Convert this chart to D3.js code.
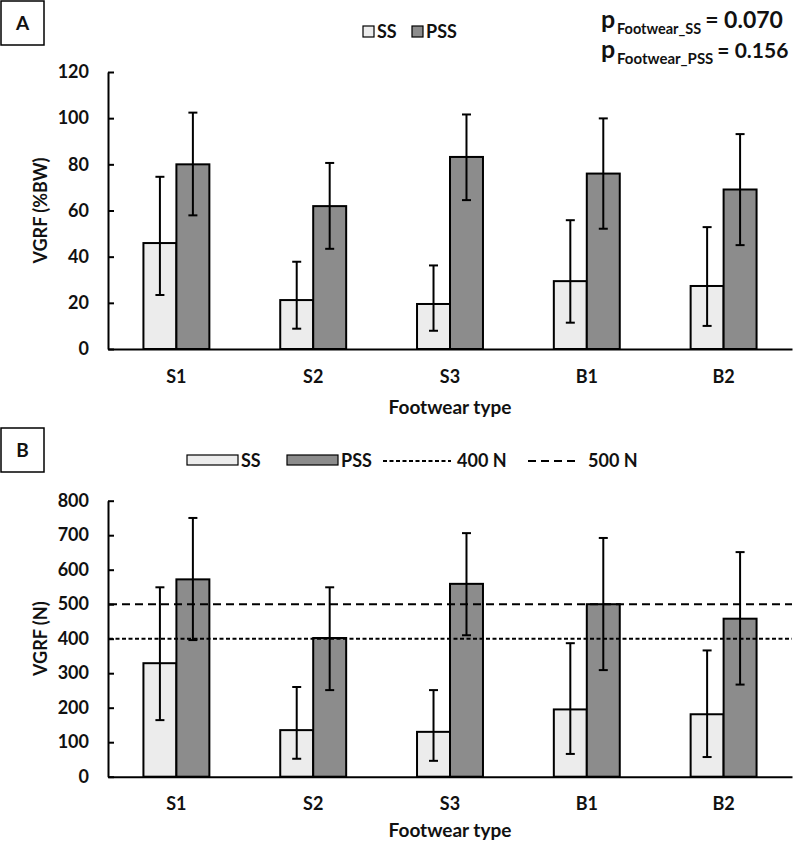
<!DOCTYPE html>
<html><head><meta charset="utf-8">
<script src="https://cdn.jsdelivr.net/npm/d3@7"></script>
<style>
body{margin:0;background:#fff;}
svg text{font-family:Lato,"Open Sans",sans-serif;font-weight:700;fill:#111;}
</style></head>
<body><svg id="c" width="800" height="846"></svg>
<script>
const categories = ["S1","S2","S3","B1","B2"];
const seriesNames = ["SS","PSS"];
// Panel A: VGRF (%BW)
const ssA = [45.9, 21.2, 19.5, 29.4, 27.3];
const ssA_lo = [23.4, 8.8, 7.9, 11.4, 10.0];
const ssA_hi = [74.6, 37.8, 36.2, 55.8, 52.8];
const pssA = [80.0, 61.9, 83.2, 76.0, 69.1];
const pssA_lo = [57.9, 43.4, 64.5, 52.1, 45.0];
const pssA_hi = [102.4, 80.6, 101.6, 99.9, 93.1];
const ticksA = [0,20,40,60,80,100,120];
// Panel B: VGRF (N)
const ssB = [329, 135, 130, 195, 181];
const ssB_lo = [164, 52, 46, 66, 57];
const ssB_hi = [549, 260, 251, 387, 366];
const pssB = [572, 402, 559, 500, 458];
const pssB_lo = [396, 251, 410, 309, 267];
const pssB_hi = [750, 549, 706, 692, 651];
const ticksB = [0,100,200,300,400,500,600,700,800];
const refLines = [400, 500];
const refLabels = ["400 N", "500 N"];
const pLabels = [["Footwear_SS","0.070"],["Footwear_PSS","0.156"]];

const svg = d3.select("#c");
const colors = {SS:"#ececec", PSS:"#8c8c8c"};

function panel(opts){
  const g = svg.append("g");
  const x = d3.scaleBand().domain(categories).range([108,792]).paddingInner(0.518).paddingOuter(0.259);
  const xs = d3.scaleBand().domain(seriesNames).range([0,x.bandwidth()]);
  const y = d3.scaleLinear().domain([0, opts.max]).range(opts.yRange);
  const data = [];
  categories.forEach((c,i)=>{
    data.push({c, s:"SS", v:opts.ss[i], lo:opts.ssLo[i], hi:opts.ssHi[i]});
    data.push({c, s:"PSS", v:opts.pss[i], lo:opts.pssLo[i], hi:opts.pssHi[i]});
  });
  g.selectAll("rect.bar").data(data).join("rect").attr("class","bar")
    .attr("x",d=>x(d.c)+xs(d.s)).attr("width",xs.bandwidth())
    .attr("y",d=>y(d.v)).attr("height",d=>y(0)-y(d.v))
    .attr("fill",d=>colors[d.s]).attr("stroke","#000").attr("stroke-width",2);
  // axes
  const ya = d3.axisLeft(y).tickValues(opts.ticks).tickSizeInner(-6).tickSizeOuter(0).tickPadding(19);
  const yg = g.append("g").attr("transform","translate(108,0)").call(ya);
  yg.select(".domain").attr("stroke","#000").attr("stroke-width",2);
  yg.selectAll(".tick line").attr("stroke","#000").attr("stroke-width",2);
  yg.selectAll(".tick text").style("font-size","18px").style("font-family","Lato").style("font-weight","700").attr("fill","#111");
  const xa = d3.axisBottom(x).tickSize(0).tickPadding(21);
  const xg = g.append("g").attr("transform",`translate(0,${y(0)})`).call(xa);
  xg.select(".domain").attr("stroke","#000").attr("stroke-width",2);
  xg.selectAll(".tick text").style("font-size","18px").style("font-family","Lato").style("font-weight","700").attr("fill","#111");
  // reference lines
  if(opts.refs){
    g.selectAll("line.ref").data(opts.refs).join("line").attr("class","ref")
      .attr("x1",109).attr("x2",792).attr("y1",d=>y(d)).attr("y2",d=>y(d))
      .attr("stroke","#000").attr("stroke-width",2)
      .attr("stroke-dasharray",(d,i)=>i===0?"4,2.5":"8,5");
  }
  // error bars
  const eb = g.selectAll("g.eb").data(data).join("g").attr("class","eb");
  const cx = d=>x(d.c)+xs(d.s)+xs.bandwidth()/2;
  eb.append("line").attr("x1",cx).attr("x2",cx).attr("y1",d=>y(d.lo)).attr("y2",d=>y(d.hi)).attr("stroke","#000").attr("stroke-width",2);
  eb.append("line").attr("x1",d=>cx(d)-4.5).attr("x2",d=>cx(d)+4.5).attr("y1",d=>y(d.lo)).attr("y2",d=>y(d.lo)).attr("stroke","#000").attr("stroke-width",2);
  eb.append("line").attr("x1",d=>cx(d)-4.5).attr("x2",d=>cx(d)+4.5).attr("y1",d=>y(d.hi)).attr("y2",d=>y(d.hi)).attr("stroke","#000").attr("stroke-width",2);
  // y title
  g.append("text").attr("transform",`translate(${opts.titleX},${(opts.yRange[0]+opts.yRange[1])/2}) rotate(-90)`)
    .attr("text-anchor","middle").attr("dy","0.35em").style("font-size","18px").text(opts.ytitle);
  // x title
  g.append("text").attr("x",450).attr("y",y(0)+opts.xTitleOff).attr("text-anchor","middle").style("font-size","19px").text("Footwear type");
  return {x,y,g};
}

const A = panel({max:120, yRange:[349,72], ss:ssA, ssLo:ssA_lo, ssHi:ssA_hi, pss:pssA, pssLo:pssA_lo, pssHi:pssA_hi, ticks:ticksA, ytitle:"VGRF (%BW)", titleX:41, xTitleOff:65});
const B = panel({max:800, yRange:[776.7,500.7], ss:ssB, ssLo:ssB_lo, ssHi:ssB_hi, pss:pssB, pssLo:pssB_lo, pssHi:pssB_hi, ticks:ticksB, ytitle:"VGRF (N)", titleX:41, xTitleOff:60, refs:refLines});

// panel labels
[["A",1],["B",428]].forEach(([t,y0])=>{
  svg.append("rect").attr("x",1).attr("y",y0).attr("width",43).attr("height",44).attr("fill","none").attr("stroke","#000").attr("stroke-width",1.5);
  svg.append("text").attr("x",22.5).attr("y",y0+22).attr("dy","0.35em").attr("text-anchor","middle").style("font-size","19px").text(t);
});

// legend A
const legA = svg.append("g");
seriesNames.forEach((s,i)=>{
  const lx = [363,412][i];
  legA.append("rect").attr("x",lx).attr("y",26).attr("width",11).attr("height",11).attr("fill",colors[s]).attr("stroke","#000").attr("stroke-width",1.2);
  legA.append("text").attr("x",lx+14).attr("y",38).style("font-size","18px").text(s);
});
// p-values (p, subscript and value as separate texts)
pLabels.forEach(([sub,val],i)=>{
  const by = [28,58][i];
  svg.append("text").attr("x",601).attr("y",by).style("font-size","25px").text("p");
  const st = svg.append("text").attr("x",617).attr("y",by+6).style("font-size",i===0?"14.5px":"15px").text(sub);
  const sw = st.node().getComputedTextLength();
  svg.append("text").attr("x",617+sw+4).attr("y",by).style("font-size",i===0?"23px":"21px").text("= "+val);
});

// legend B
const legB = svg.append("g");
seriesNames.forEach((s,i)=>{
  const lx = [187,287][i];
  legB.append("rect").attr("x",lx).attr("y",455).attr("width",51).attr("height",10).attr("fill",colors[s]).attr("stroke","#000").attr("stroke-width",1.2);
  legB.append("text").attr("x",lx+54).attr("y",467).style("font-size","18px").text(s);
});
refLabels.forEach((lab,i)=>{
  const lx = [383,528][i], lw = [68,50][i];
  legB.append("line").attr("x1",lx).attr("x2",lx+lw).attr("y1",461).attr("y2",461).attr("stroke","#000").attr("stroke-width",2).attr("stroke-dasharray",i===0?"4,2.5":"8,5");
  legB.append("text").attr("x",[457,588][i]).attr("y",467).style("font-size","18px").text(lab);
});
</script></body></html>
